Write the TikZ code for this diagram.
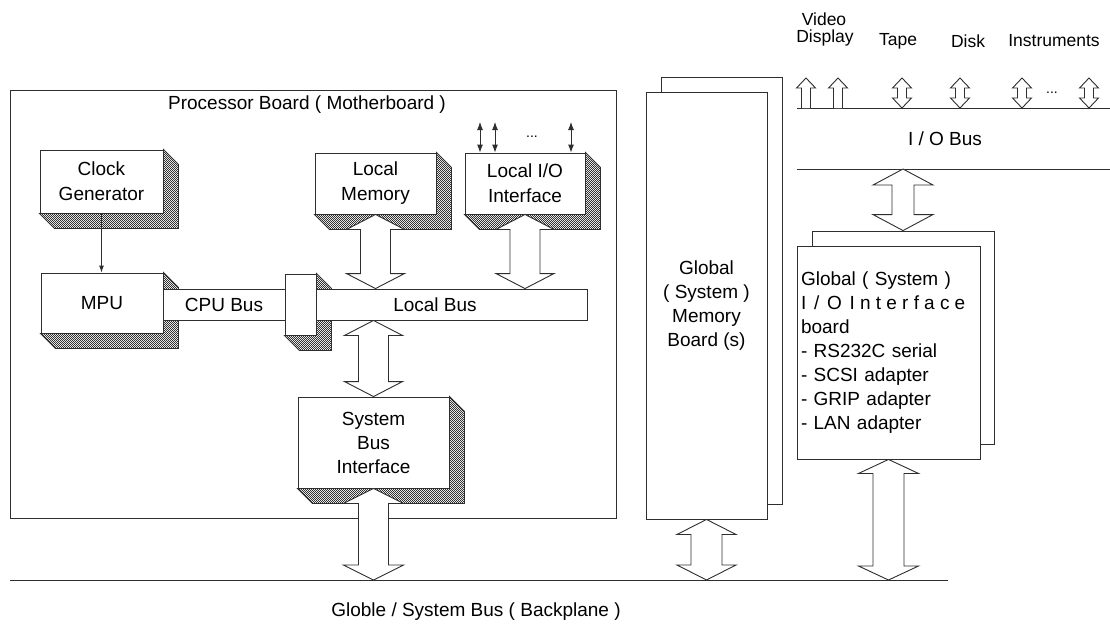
\documentclass[tikz,border=0pt]{standalone}
\usepackage{fontspec}
\setmainfont{Liberation Sans}
\usetikzlibrary{calc,patterns,arrows.meta}
\pgfdeclarepatternformonly{finecheck}{\pgfqpoint{0pt}{0pt}}{\pgfqpoint{2.4pt}{2.4pt}}{\pgfqpoint{2.4pt}{2.4pt}}{%
  \pgfpathrectangle{\pgfqpoint{0pt}{0pt}}{\pgfqpoint{1.2pt}{1.2pt}}%
  \pgfpathrectangle{\pgfqpoint{1.2pt}{1.2pt}}{\pgfqpoint{1.2pt}{1.2pt}}%
  \pgfusepath{fill}}
\newcommand\lblfont{\fontsize{19}{24}\selectfont}
\newcommand\toplblfont{\fontsize{17.5}{17}\selectfont}
\newcommand\wordgapx{\hskip 7.8pt\relax}
\newcommand\lettergapx{\hskip 5.2pt\relax}
\newcommand\shadowof[1]{%
  \path[shade3d] (#1.north east) -- ++(15,15) -- ($(#1.south east)+(15,15)$)
    -- ($(#1.south west)+(15,15)$) -- (#1.south west) -- (#1.south east) -- cycle;}
% double block arrow: #1 top tip, #2 bottom tip, #3 shaft half, #4 head half, #5 head length
\newcommand\dblock[5]{%
  \path[blockarrow] let \p1=#1, \p2=#2 in
    (\x1,\y1) -- (\x1+#4pt,\y1-#5pt) -- (\x1+#3pt,\y1-#5pt) -- (\x1+#3pt,\y2+#5pt)
    -- (\x1+#4pt,\y2+#5pt) -- (\x1,\y2) -- (\x1-#4pt,\y2+#5pt) -- (\x1-#3pt,\y2+#5pt)
    -- (\x1-#3pt,\y1-#5pt) -- (\x1-#4pt,\y1-#5pt) -- cycle;}
% single up block arrow: #1 tip, #2 base point on bus
\newcommand\upblock[2]{%
  \path[blockarrow] let \p1=#1, \p2=#2 in
    (\x1-4.5pt,\y2) -- (\x1-4.5pt,\y1-10pt) -- (\x1-9.5pt,\y1-10pt) -- (\x1,\y1)
    -- (\x1+9.5pt,\y1-10pt) -- (\x1+4.5pt,\y1-10pt) -- (\x1+4.5pt,\y2);}
\colorlet{ln}{black!82}
\begin{document}
\begin{tikzpicture}[x=1pt,y=-1pt,
  face/.style={draw=ln, fill=white, line width=0.9pt, inner sep=0pt, align=center, font=\lblfont},
  board/.style={draw=ln, fill=white, line width=0.9pt, inner sep=0pt},
  bar/.style={draw=ln, fill=white, line width=0.9pt, inner sep=0pt, font=\lblfont},
  shade3d/.style={draw=ln, line width=0.9pt, pattern=finecheck, pattern color=black!80},
  blockarrow/.style={draw=ln, fill=white, line width=0.9pt, line join=miter},
  busline/.style={draw=ln, line width=0.9pt},
  lbl/.style={inner sep=0pt, font=\lblfont},
  toplbl/.style={inner sep=0pt, font=\toplblfont},
  thin/.style={draw=ln, line width=0.9pt, {Latex[length=8pt,width=6pt]}-{Latex[length=8pt,width=6pt]}}
]
\useasboundingbox (0,0) rectangle (1110,638);

% boards
\node[board, minimum width=606pt, minimum height=428pt] (board) at (313,304) {};
\node[lbl] (title) at (307,105) {Processor Board ( Motherboard )};

\node[board, minimum width=121pt, minimum height=427pt] (gmb) at (721.5,290.5) {};
\node[face, minimum width=121pt, minimum height=427pt] (gm) at (706.5,305.5)
  {Global\\( System )\\Memory\\Board (s)};

\node[board, minimum width=182pt, minimum height=213pt] (giob) at (903,337.5) {};
\node[face, minimum width=183pt, minimum height=213pt, align=left, text width=175pt, inner xsep=4pt] (gio) at (888.5,352.5)
  {Global ( System )\\I\wordgapx/\wordgapx O\wordgapx I\lettergapx n\lettergapx t\lettergapx e\lettergapx r\lettergapx f\lettergapx a\lettergapx c\lettergapx e\\board\\- RS232C serial\\- SCSI adapter\\- GRIP adapter\\- LAN adapter};

% 3D blocks (front faces)
\node[face, minimum width=123pt, minimum height=63pt] (clk) at (101.5,181.5) {Clock\\[1pt]Generator};
\node[face, minimum width=121pt, minimum height=61pt] (lm) at (375.5,183.5) {Local\\[1pt]Memory};
\node[face, minimum width=120pt, minimum height=61pt] (lio) at (525,183.5) {Local I/O\\[1pt]Interface};
\node[face, minimum width=122pt, minimum height=60pt] (mpu) at (102,303) {MPU};
\node[face, minimum width=31pt, minimum height=61pt] (conn) at (300.5,304.5) {};
\node[face, minimum width=151pt, minimum height=91pt] (sbi) at (373.5,442.5) {System\\Bus\\Interface};

\shadowof{clk}
\shadowof{lm}
\shadowof{lio}
\shadowof{mpu}
\shadowof{conn}
\shadowof{sbi}

% buses on the board
\node[bar, minimum width=122pt, minimum height=31pt] (cpubus) at (224,304.5) {CPU Bus};
\node[bar, minimum width=271pt, minimum height=31pt] (lbus) at (451.5,304.5) {};
\node[lbl] (lbuslbl) at (435,304.5) {Local Bus};

% global bus
\coordinate (gbL) at (10,580);
\coordinate (gbR) at (948,580);
\draw[busline] (gbL) -- (gbR);
\node[lbl] (gblbl) at (476,612) {Globle / System Bus ( Backplane )};

% I/O bus
\coordinate (ioTL) at (797,108);
\coordinate (ioTR) at (1110,108);
\coordinate (ioBL) at (797,169);
\coordinate (ioBR) at (1110,169);
\draw[busline] (ioTL) -- (ioTR);
\draw[busline] (ioBL) -- (ioBR);
\node[lbl] (iolbl) at (945,139) {I / O Bus};

% block arrows
\dblock{(lm.south)}{(lm.south |- lbus.north)}{15}{29}{15}
\dblock{(lio.south)}{(lio.south |- lbus.north)}{15}{29}{15}
\dblock{(sbi.north |- lbus.south)}{(sbi.north)}{15}{29}{15}
\dblock{(sbi.south)}{(sbi.south |- gbL)}{15}{30}{15}
\dblock{(gm.south)}{(gm.south |- gbL)}{15.5}{29.5}{15}
\dblock{(gio.south)}{(gio.south |- gbL)}{15.5}{30}{14}
\dblock{(giob.north |- ioBL)}{(giob.north)}{11}{30}{16}

% peripheral arrows on I/O bus
\coordinate (v1) at (806,78);
\coordinate (v2) at (838,78);
\coordinate (p1) at (902,78);
\coordinate (p2) at (960,78);
\coordinate (p3) at (1022,78);
\coordinate (p4) at (1089,78);
\upblock{(v1)}{(v1 |- ioTL)}
\upblock{(v2)}{(v2 |- ioTL)}
\dblock{(p1)}{(p1 |- ioTL)}{4.5}{9.5}{10}
\dblock{(p2)}{(p2 |- ioTL)}{4.5}{9.5}{10}
\dblock{(p3)}{(p3 |- ioTL)}{4.5}{9.5}{10}
\dblock{(p4)}{(p4 |- ioTL)}{4.5}{9.5}{10}
\node[inner sep=0pt, font=\fontsize{14}{14}\selectfont] (pdots) at (1052,93) {...};

\node[toplbl] (video) at (824,19) {Video};
\node[toplbl] (display) at (825,38) {Display};
\node[toplbl] (tape) at (898,41) {Tape};
\node[toplbl] (disk) at (968,41) {Disk};
\node[toplbl] (instr) at (1054,41) {Instruments};

% clock to MPU
\draw[draw=ln, line width=0.9pt, -{Latex[length=7pt,width=5pt]}] (clk.south) -- (clk.south |- mpu.north);

% local I/O lines
\coordinate (t1) at (480,122);
\coordinate (t2) at (495,122);
\coordinate (t3) at (571,122);
\draw[thin] (t1) -- (t1 |- lio.north);
\draw[thin] (t2) -- (t2 |- lio.north);
\draw[thin] (t3) -- (t3 |- lio.north);
\node[inner sep=0pt, font=\fontsize{14}{14}\selectfont] (ldots) at (532,137) {...};

\end{tikzpicture}
\end{document}
